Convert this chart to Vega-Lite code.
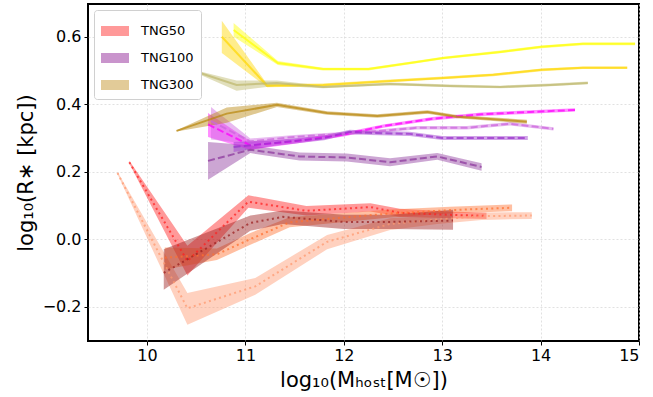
{
  "$schema": "https://vega.github.io/schema/vega-lite/v6.json",
  "width": 551,
  "height": 337,
  "autosize": {"type": "none"},
  "padding": {"left": 88, "top": 4, "right": 14, "bottom": 56},
  "background": "white",
  "config": {
    "font": "DejaVu Sans",
    "view": {"stroke": "black", "strokeWidth": 2},
    "axis": {
      "domain": false,
      "grid": true,
      "gridColor": "#d9d9d9",
      "gridDash": [2, 2],
      "gridWidth": 0.8,
      "tickColor": "black",
      "tickSize": 4,
      "tickWidth": 1,
      "labelColor": "black",
      "labelFontSize": 16,
      "labelFont": "DejaVu Sans",
      "titleFont": "DejaVu Sans",
      "titleFontSize": 21,
      "titleFontWeight": "normal",
      "titleColor": "black"
    },
    "legend": {
      "orient": "top-left",
      "offset": 6,
      "fillColor": "white",
      "strokeColor": "#d0d0d0",
      "cornerRadius": 3,
      "padding": 7,
      "labelFont": "DejaVu Sans",
      "labelFontSize": 13,
      "labelColor": "black",
      "symbolType": "M-1,-0.357H1V0.357H-1Z",
      "symbolSize": 784,
      "symbolOpacity": 1,
      "symbolStrokeWidth": 0,
      "rowPadding": 6,
      "labelOffset": 12
    }
  },
  "datasets": {
    "d": [
      {"s": "red", "g": "TNG50", "x": 9.82, "y": 0.228, "lo": 0.224, "hi": 0.232},
      {"s": "red", "g": "TNG50", "x": 10.41, "y": -0.065, "lo": -0.108, "hi": -0.02},
      {"s": "red", "g": "TNG50", "x": 11.03, "y": 0.111, "lo": 0.093, "hi": 0.13},
      {"s": "red", "g": "TNG50", "x": 11.62, "y": 0.084, "lo": 0.07, "hi": 0.098},
      {"s": "red", "g": "TNG50", "x": 12.27, "y": 0.095, "lo": 0.082, "hi": 0.106},
      {"s": "red", "g": "TNG50", "x": 12.57, "y": 0.078, "lo": 0.066, "hi": 0.09},
      {"s": "red", "g": "TNG50", "x": 13.08, "y": 0.072, "lo": 0.062, "hi": 0.082},
      {"s": "red", "g": "TNG50", "x": 13.45, "y": 0.069, "lo": 0.06, "hi": 0.078},

      {"s": "salmon", "g": "TNG50", "x": 9.7, "y": 0.196, "lo": 0.192, "hi": 0.2},
      {"s": "salmon", "g": "TNG50", "x": 10.41, "y": -0.205, "lo": -0.254, "hi": -0.16},
      {"s": "salmon", "g": "TNG50", "x": 11.1, "y": -0.14, "lo": -0.165, "hi": -0.115},
      {"s": "salmon", "g": "TNG50", "x": 11.83, "y": -0.008, "lo": -0.03, "hi": 0.012},
      {"s": "salmon", "g": "TNG50", "x": 12.47, "y": 0.045, "lo": 0.027, "hi": 0.062},
      {"s": "salmon", "g": "TNG50", "x": 12.95, "y": 0.058, "lo": 0.045, "hi": 0.071},
      {"s": "salmon", "g": "TNG50", "x": 13.4, "y": 0.068, "lo": 0.057, "hi": 0.079},
      {"s": "salmon", "g": "TNG50", "x": 13.91, "y": 0.07, "lo": 0.06, "hi": 0.08},

      {"s": "orange", "g": "TNG50", "x": 10.18, "y": -0.055, "lo": -0.09, "hi": -0.025},
      {"s": "orange", "g": "TNG50", "x": 10.71, "y": -0.045, "lo": -0.062, "hi": -0.028},
      {"s": "orange", "g": "TNG50", "x": 11.05, "y": 0.0, "lo": -0.017, "hi": 0.018},
      {"s": "orange", "g": "TNG50", "x": 11.45, "y": 0.05, "lo": 0.035, "hi": 0.065},
      {"s": "orange", "g": "TNG50", "x": 12.47, "y": 0.076, "lo": 0.064, "hi": 0.088},
      {"s": "orange", "g": "TNG50", "x": 13.08, "y": 0.086, "lo": 0.076, "hi": 0.096},
      {"s": "orange", "g": "TNG50", "x": 13.71, "y": 0.093, "lo": 0.083, "hi": 0.103},

      {"s": "darkred", "g": "TNG50", "x": 10.17, "y": -0.1, "lo": -0.15, "hi": -0.03},
      {"s": "darkred", "g": "TNG50", "x": 11.05, "y": 0.048, "lo": 0.025, "hi": 0.07},
      {"s": "darkred", "g": "TNG50", "x": 11.38, "y": 0.066, "lo": 0.045, "hi": 0.085},
      {"s": "darkred", "g": "TNG50", "x": 12.0, "y": 0.051, "lo": 0.03, "hi": 0.072},
      {"s": "darkred", "g": "TNG50", "x": 12.47, "y": 0.051, "lo": 0.03, "hi": 0.072},
      {"s": "darkred", "g": "TNG50", "x": 13.11, "y": 0.055, "lo": 0.028, "hi": 0.087},

      {"s": "purple", "g": "TNG100", "x": 10.62, "y": 0.232, "lo": 0.176, "hi": 0.288},
      {"s": "purple", "g": "TNG100", "x": 11.05, "y": 0.265, "lo": 0.255, "hi": 0.278},
      {"s": "purple", "g": "TNG100", "x": 11.55, "y": 0.245, "lo": 0.233, "hi": 0.257},
      {"s": "purple", "g": "TNG100", "x": 12.03, "y": 0.242, "lo": 0.23, "hi": 0.254},
      {"s": "purple", "g": "TNG100", "x": 12.47, "y": 0.228, "lo": 0.216, "hi": 0.24},
      {"s": "purple", "g": "TNG100", "x": 12.95, "y": 0.245, "lo": 0.235, "hi": 0.255},
      {"s": "purple", "g": "TNG100", "x": 13.4, "y": 0.214, "lo": 0.203, "hi": 0.225},

      {"s": "magenta", "g": "TNG100", "x": 10.62, "y": 0.34, "lo": 0.303, "hi": 0.374},
      {"s": "magenta", "g": "TNG100", "x": 11.05, "y": 0.278, "lo": 0.265, "hi": 0.29},
      {"s": "magenta", "g": "TNG100", "x": 11.5, "y": 0.29, "lo": 0.283, "hi": 0.297},
      {"s": "magenta", "g": "TNG100", "x": 12.0, "y": 0.31, "lo": 0.304, "hi": 0.316},
      {"s": "magenta", "g": "TNG100", "x": 12.4, "y": 0.335, "lo": 0.33, "hi": 0.34},
      {"s": "magenta", "g": "TNG100", "x": 12.9, "y": 0.357, "lo": 0.352, "hi": 0.362},
      {"s": "magenta", "g": "TNG100", "x": 13.4, "y": 0.37, "lo": 0.365, "hi": 0.375},
      {"s": "magenta", "g": "TNG100", "x": 13.9, "y": 0.377, "lo": 0.372, "hi": 0.382},
      {"s": "magenta", "g": "TNG100", "x": 14.35, "y": 0.383, "lo": 0.378, "hi": 0.388},

      {"s": "orchid", "g": "TNG100", "x": 10.65, "y": 0.35, "lo": 0.295, "hi": 0.392},
      {"s": "orchid", "g": "TNG100", "x": 11.05, "y": 0.29, "lo": 0.282, "hi": 0.298},
      {"s": "orchid", "g": "TNG100", "x": 11.5, "y": 0.303, "lo": 0.297, "hi": 0.309},
      {"s": "orchid", "g": "TNG100", "x": 12.06, "y": 0.314, "lo": 0.309, "hi": 0.319},
      {"s": "orchid", "g": "TNG100", "x": 12.27, "y": 0.318, "lo": 0.313, "hi": 0.323},
      {"s": "orchid", "g": "TNG100", "x": 12.74, "y": 0.33, "lo": 0.325, "hi": 0.335},
      {"s": "orchid", "g": "TNG100", "x": 13.25, "y": 0.33, "lo": 0.325, "hi": 0.335},
      {"s": "orchid", "g": "TNG100", "x": 13.69, "y": 0.342, "lo": 0.337, "hi": 0.347},
      {"s": "orchid", "g": "TNG100", "x": 14.13, "y": 0.327, "lo": 0.322, "hi": 0.332},

      {"s": "darkorchid", "g": "TNG100", "x": 10.88, "y": 0.273, "lo": 0.258, "hi": 0.288},
      {"s": "darkorchid", "g": "TNG100", "x": 11.3, "y": 0.285, "lo": 0.277, "hi": 0.293},
      {"s": "darkorchid", "g": "TNG100", "x": 11.8, "y": 0.3, "lo": 0.293, "hi": 0.307},
      {"s": "darkorchid", "g": "TNG100", "x": 12.06, "y": 0.318, "lo": 0.312, "hi": 0.324},
      {"s": "darkorchid", "g": "TNG100", "x": 12.27, "y": 0.315, "lo": 0.309, "hi": 0.321},
      {"s": "darkorchid", "g": "TNG100", "x": 12.67, "y": 0.312, "lo": 0.306, "hi": 0.318},
      {"s": "darkorchid", "g": "TNG100", "x": 13.0, "y": 0.3, "lo": 0.294, "hi": 0.306},
      {"s": "darkorchid", "g": "TNG100", "x": 13.4, "y": 0.3, "lo": 0.294, "hi": 0.306},
      {"s": "darkorchid", "g": "TNG100", "x": 13.87, "y": 0.3, "lo": 0.294, "hi": 0.306},

      {"s": "yellow", "g": "TNG300", "x": 10.88, "y": 0.62, "lo": 0.6, "hi": 0.641},
      {"s": "yellow", "g": "TNG300", "x": 11.33, "y": 0.522, "lo": 0.516, "hi": 0.528},
      {"s": "yellow", "g": "TNG300", "x": 11.79, "y": 0.504, "lo": 0.5, "hi": 0.508},
      {"s": "yellow", "g": "TNG300", "x": 12.25, "y": 0.504, "lo": 0.5, "hi": 0.508},
      {"s": "yellow", "g": "TNG300", "x": 12.74, "y": 0.525, "lo": 0.521, "hi": 0.529},
      {"s": "yellow", "g": "TNG300", "x": 13.01, "y": 0.537, "lo": 0.533, "hi": 0.541},
      {"s": "yellow", "g": "TNG300", "x": 13.59, "y": 0.555, "lo": 0.551, "hi": 0.559},
      {"s": "yellow", "g": "TNG300", "x": 14.01, "y": 0.57, "lo": 0.566, "hi": 0.574},
      {"s": "yellow", "g": "TNG300", "x": 14.43, "y": 0.579, "lo": 0.575, "hi": 0.583},
      {"s": "yellow", "g": "TNG300", "x": 14.96, "y": 0.579, "lo": 0.575, "hi": 0.583},

      {"s": "gold", "g": "TNG300", "x": 10.76, "y": 0.6, "lo": 0.552, "hi": 0.647},
      {"s": "gold", "g": "TNG300", "x": 11.22, "y": 0.455, "lo": 0.45, "hi": 0.46},
      {"s": "gold", "g": "TNG300", "x": 11.79, "y": 0.457, "lo": 0.453, "hi": 0.461},
      {"s": "gold", "g": "TNG300", "x": 12.47, "y": 0.469, "lo": 0.465, "hi": 0.473},
      {"s": "gold", "g": "TNG300", "x": 13.01, "y": 0.478, "lo": 0.474, "hi": 0.482},
      {"s": "gold", "g": "TNG300", "x": 13.52, "y": 0.487, "lo": 0.483, "hi": 0.491},
      {"s": "gold", "g": "TNG300", "x": 14.01, "y": 0.502, "lo": 0.498, "hi": 0.506},
      {"s": "gold", "g": "TNG300", "x": 14.43, "y": 0.508, "lo": 0.504, "hi": 0.512},
      {"s": "gold", "g": "TNG300", "x": 14.88, "y": 0.508, "lo": 0.504, "hi": 0.512},

      {"s": "khaki", "g": "TNG300", "x": 10.47, "y": 0.499, "lo": 0.496, "hi": 0.502},
      {"s": "khaki", "g": "TNG300", "x": 10.91, "y": 0.457, "lo": 0.44, "hi": 0.47},
      {"s": "khaki", "g": "TNG300", "x": 11.32, "y": 0.463, "lo": 0.455, "hi": 0.47},
      {"s": "khaki", "g": "TNG300", "x": 11.79, "y": 0.451, "lo": 0.447, "hi": 0.455},
      {"s": "khaki", "g": "TNG300", "x": 12.47, "y": 0.46, "lo": 0.456, "hi": 0.464},
      {"s": "khaki", "g": "TNG300", "x": 13.08, "y": 0.454, "lo": 0.45, "hi": 0.458},
      {"s": "khaki", "g": "TNG300", "x": 13.59, "y": 0.451, "lo": 0.447, "hi": 0.455},
      {"s": "khaki", "g": "TNG300", "x": 14.1, "y": 0.457, "lo": 0.453, "hi": 0.461},
      {"s": "khaki", "g": "TNG300", "x": 14.48, "y": 0.463, "lo": 0.459, "hi": 0.467},

      {"s": "goldenrod", "g": "TNG300", "x": 10.3, "y": 0.321, "lo": 0.319, "hi": 0.323},
      {"s": "goldenrod", "g": "TNG300", "x": 10.81, "y": 0.372, "lo": 0.345, "hi": 0.39},
      {"s": "goldenrod", "g": "TNG300", "x": 11.32, "y": 0.398, "lo": 0.392, "hi": 0.404},
      {"s": "goldenrod", "g": "TNG300", "x": 11.83, "y": 0.374, "lo": 0.369, "hi": 0.379},
      {"s": "goldenrod", "g": "TNG300", "x": 12.34, "y": 0.365, "lo": 0.36, "hi": 0.37},
      {"s": "goldenrod", "g": "TNG300", "x": 12.85, "y": 0.377, "lo": 0.372, "hi": 0.382},
      {"s": "goldenrod", "g": "TNG300", "x": 13.15, "y": 0.363, "lo": 0.358, "hi": 0.368},
      {"s": "goldenrod", "g": "TNG300", "x": 13.49, "y": 0.356, "lo": 0.351, "hi": 0.361},
      {"s": "goldenrod", "g": "TNG300", "x": 13.86, "y": 0.348, "lo": 0.342, "hi": 0.354}
    ],
    "leg": [{"sim": "TNG50"}, {"sim": "TNG100"}, {"sim": "TNG300"}]
  },
  "layer": [
    {
      "data": {"name": "d"},
      "mark": {"type": "area", "opacity": 0.45},
      "encoding": {
        "x": {
          "field": "x", "type": "quantitative",
          "scale": {"domain": [9.4, 15], "nice": false, "zero": false},
          "axis": {"values": [10, 11, 12, 13, 14, 15], "format": "d", "labelPadding": 2, "titlePadding": 6,
                   "title": "log₁₀(Mₕₒₛₜ[M☉])"}
        },
        "y": {
          "field": "lo", "type": "quantitative",
          "scale": {"domain": [-0.302, 0.697], "nice": false, "zero": false},
          "axis": {"values": [-0.2, 0, 0.2, 0.4, 0.6], "format": ".1f", "labelPadding": 3, "titlePadding": 6,
                   "title": "log₁₀(R∗ [kpc])"}
        },
        "y2": {"field": "hi"},
        "fill": {
          "field": "s", "type": "nominal", "legend": null,
          "scale": {
            "domain": ["red", "salmon", "orange", "darkred", "purple", "magenta", "orchid", "darkorchid", "yellow", "gold", "khaki", "goldenrod"],
            "range": ["#ff2020", "#ff9a70", "#ff7030", "#9b2020", "#8e3a9e", "#ff00ff", "#cc66dd", "#9933cc", "#ffff00", "#ffd700", "#bdb76b", "#b8860b"]
          }
        }
      }
    },
    {
      "data": {"name": "d"},
      "transform": [{"filter": "datum.g === 'TNG50'"}],
      "mark": {"type": "line", "strokeWidth": 2, "strokeDash": [2, 3.3], "opacity": 0.75},
      "encoding": {
        "x": {"field": "x", "type": "quantitative"},
        "y": {"field": "y", "type": "quantitative"},
        "stroke": {
          "field": "s", "type": "nominal", "legend": null,
          "scale": {
            "domain": ["red", "salmon", "orange", "darkred", "purple", "magenta", "orchid", "darkorchid", "yellow", "gold", "khaki", "goldenrod"],
            "range": ["#ff2020", "#ff9a70", "#ff7030", "#9b2020", "#8e3a9e", "#ff00ff", "#cc66dd", "#9933cc", "#ffff00", "#ffd700", "#bdb76b", "#b8860b"]
          }
        }
      }
    },
    {
      "data": {"name": "d"},
      "transform": [{"filter": "datum.g === 'TNG100'"}],
      "mark": {"type": "line", "strokeWidth": 2, "strokeDash": [7, 3.2], "opacity": 0.75},
      "encoding": {
        "x": {"field": "x", "type": "quantitative"},
        "y": {"field": "y", "type": "quantitative"},
        "stroke": {"field": "s", "type": "nominal", "legend": null}
      }
    },
    {
      "data": {"name": "d"},
      "transform": [{"filter": "datum.g === 'TNG300'"}],
      "mark": {"type": "line", "strokeWidth": 2, "opacity": 0.7},
      "encoding": {
        "x": {"field": "x", "type": "quantitative"},
        "y": {"field": "y", "type": "quantitative"},
        "stroke": {"field": "s", "type": "nominal", "legend": null}
      }
    },
    {
      "data": {"name": "leg"},
      "mark": {"type": "point", "filled": true, "opacity": 0},
      "encoding": {
        "x": {"datum": 12},
        "y": {"datum": 0},
        "color": {
          "field": "sim", "type": "nominal",
          "scale": {"domain": ["TNG50", "TNG100", "TNG300"], "range": ["#ff9999", "#c994cc", "#e2cb98"]},
          "legend": {"title": null}
        }
      }
    }
  ]
}
